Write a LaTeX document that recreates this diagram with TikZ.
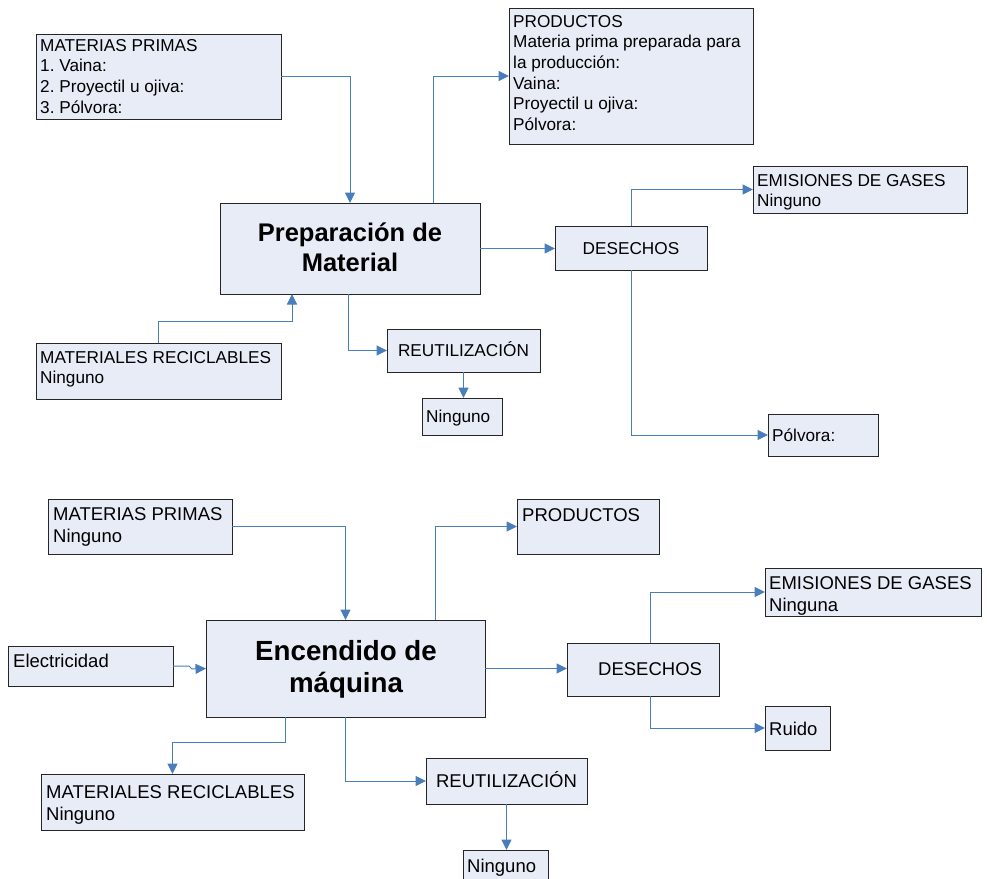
\documentclass[tikz,border=0pt]{standalone}
\usepackage{fontspec}
\setmainfont{Liberation Sans}
\usetikzlibrary{arrows.meta,fit,shadows}
\definecolor{boxfill}{HTML}{E7ECF7}
\definecolor{linkblue}{HTML}{4A7EBB}
\definecolor{boxline}{HTML}{262626}
\frenchspacing
% stacked lines whose baseline is the first line
\newcommand\lft[1]{\begin{tabular}[t]{@{}l@{}}#1\end{tabular}}
\newcommand\ctr[1]{\begin{tabular}[t]{@{}c@{}}#1\end{tabular}}
\tikzset{
  box/.style={draw=boxline, line width=0.9pt, fill=boxfill, inner sep=0pt, outer sep=0pt,
    drop shadow={shadow xshift=1.3pt, shadow yshift=-1.3pt, fill=black!55, opacity=0.55}},
  txtA/.style={inner sep=0pt, anchor=base west, font=\fontsize{17.2}{20.7}\selectfont},
  txtB/.style={inner sep=0pt, anchor=base west, font=\fontsize{18.5}{22.5}\selectfont},
  titleA/.style={inner sep=0pt, anchor=base, font=\bfseries\fontsize{25.5}{30}\selectfont},
  titleB/.style={inner sep=0pt, anchor=base, font=\bfseries\fontsize{27.7}{32}\selectfont},
  conn/.style={draw=linkblue, line width=1pt, -{Triangle[length=10.5pt,width=10pt]}},
}
\begin{document}
\begin{tikzpicture}[x=1pt,y=-1pt]
\useasboundingbox (0,0) rectangle (989,879);
\fill[white] (0,0) rectangle (989,879);

% ---------- Preparación de Material ----------
\node[box, fit={(36,34) (281,119)}] (mpA) {};
\node[txtA] (mpA-t) at (40,51) {\lft{MATERIAS PRIMAS\\1. Vaina:\\2. Proyectil u ojiva:\\3. Pólvora:}};

\node[box, fit={(509,8) (753,144)}] (prodA) {};
\node[txtA] (prodA-t) at (513,27) {\lft{PRODUCTOS\\Materia prima preparada para\\la producción:\\Vaina:\\Proyectil u ojiva:\\Pólvora:}};

\node[box, fit={(220,203) (480,294)}] (prepA) {};
\node[titleA] (prepA-t) at (350,241) {\ctr{Preparación de\\Material}};

\node[box, fit={(555,226) (707,270)}] (desA) {};
\node[txtA, anchor=base] (desA-t) at (631,254) {DESECHOS};

\node[box, fit={(753,166) (967,213)}] (emisA) {};
\node[txtA] (emisA-t) at (757,186) {\lft{EMISIONES DE GASES\\Ninguno}};

\node[box, fit={(36,343) (281,399)}] (mrA) {};
\node[txtA] (mrA-t) at (40,363) {\lft{MATERIALES RECICLABLES\\Ninguno}};

\node[box, fit={(387,329) (540,372)}] (reutA) {};
\node[txtA, anchor=base] (reutA-t) at (463.5,356) {REUTILIZACIÓN};

\node[box, fit={(422,398) (502,435)}] (ningA) {};
\node[txtA] (ningA-t) at (426,422) {Ninguno};

\node[box, fit={(768,414) (878,456)}] (polvA) {};
\node[txtA] (polvA-t) at (772,441) {Pólvora:};

\draw[conn] (mpA.east) -| (prepA.north);
\draw[conn] ([xshift=83pt]prepA.north) |- (prodA.west);
\draw[conn] (prepA.east) -- (prepA.east -| desA.west);
\draw[conn] (desA.north) |- (emisA.west);
\draw[conn] (desA.south) |- (polvA.west);
\draw[conn] (mrA.north) -- ++(0,-22) -| ([xshift=-58pt]prepA.south);
\draw[conn] ([xshift=-2pt]prepA.south) |- (reutA.west);
\draw[conn] (reutA.south) -- (reutA.south |- ningA.north);

% ---------- Encendido de máquina ----------
\node[box, fit={(48,499) (232,554)}] (mpB) {};
\node[txtB] (mpB-t) at (53,520) {\lft{MATERIAS PRIMAS\\Ninguno}};

\node[box, fit={(517,499) (659,554)}] (prodB) {};
\node[txtB] (prodB-t) at (522,521) {PRODUCTOS};

\node[box, fit={(206,620) (485,717)}] (encB) {};
\node[titleB] (encB-t) at (346,660) {\ctr{Encendido de\\máquina}};

\node[box, fit={(8,646) (173,686)}] (elecB) {};
\node[txtB] (elecB-t) at (13,667) {Electricidad};

\node[box, fit={(567,643) (719,696)}] (desB) {};
\node[txtB] (desB-t) at (598,675) {DESECHOS};

\node[box, fit={(765,568) (981,616)}] (emisB) {};
\node[txtB] (emisB-t) at (769,589) {\lft{EMISIONES DE GASES\\Ninguna}};

\node[box, fit={(765,706) (830,750)}] (ruidoB) {};
\node[txtB] (ruidoB-t) at (769,735) {Ruido};

\node[box, fit={(41,774) (304,830)}] (mrB) {};
\node[txtB] (mrB-t) at (46,798) {\lft{MATERIALES RECICLABLES\\Ninguno}};

\node[box, fit={(426,758) (587,804)}] (reutB) {};
\node[txtB, anchor=base] (reutB-t) at (506.5,787) {REUTILIZACIÓN};

\node[box, fit={(463,850) (548,895)}] (ningB) {};
\node[txtB] (ningB-t) at (467,872) {Ninguno};

\draw[conn] (mpB.east) -| (encB.north);
\draw[conn] ([xshift=90pt]encB.north) |- (prodB.west);
\draw[conn] (encB.east) -- (encB.east -| desB.west);
\draw[conn] ([xshift=7pt]desB.north) |- (emisB.west);
\draw[conn] ([xshift=7pt]desB.south) |- (ruidoB.west);
\draw[conn] (elecB.east) -- ++(16,0) -- ++(3,3) -- (encB.west);
\draw[conn] ([xshift=-60pt]encB.south) -- ++(0,25) -| (mrB.north);
\draw[conn] (encB.south) |- (reutB.west);
\draw[conn] (reutB.south) -- (reutB.south |- ningB.north);
\end{tikzpicture}
\end{document}
